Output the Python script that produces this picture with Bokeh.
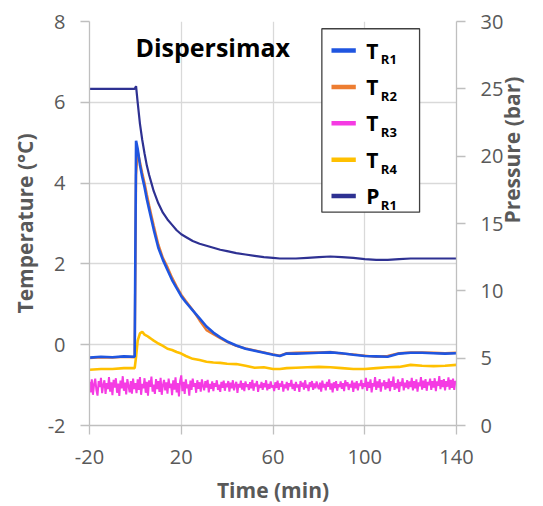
import math
from bokeh.plotting import figure
from bokeh.models import Range1d, LinearAxis, FixedTicker, Label
from bokeh.core.properties import value
from bokeh.embed import file_html
from bokeh.resources import INLINE

# ---------------- data ----------------
time_main = [-20, -15, -10, -5, -0.3, 0.3, 1, 2, 3, 4, 5, 6, 7, 8, 10, 12, 14, 16, 18, 20,
             22, 25, 28, 31, 34, 37, 40, 44, 48, 52, 56, 60, 63, 66, 70, 75, 80, 85, 90,
             95, 100, 105, 110, 115, 120, 125, 130, 135, 140]

t_r1 = [-0.32, -0.30, -0.31, -0.29, -0.30, 5.05, 4.85, 4.45, 4.15, 3.90, 3.60, 3.35, 3.10, 2.85,
        2.40, 2.10, 1.85, 1.60, 1.40, 1.20, 1.05, 0.85, 0.65, 0.45, 0.30, 0.18, 0.08, -0.02,
        -0.10, -0.15, -0.20, -0.25, -0.28, -0.22, -0.22, -0.21, -0.20, -0.19, -0.21, -0.25,
        -0.28, -0.29, -0.30, -0.22, -0.20, -0.20, -0.21, -0.22, -0.21]

t_r2 = [-0.33, -0.31, -0.32, -0.30, -0.31, 4.20, 4.78, 4.52, 4.25, 4.00, 3.72, 3.45, 3.20, 2.95,
        2.48, 2.15, 1.92, 1.66, 1.44, 1.24, 1.08, 0.86, 0.60, 0.36, 0.26, 0.16, 0.07, -0.03,
        -0.09, -0.14, -0.19, -0.24, -0.27, -0.21, -0.20, -0.19, -0.19, -0.18, -0.22, -0.24,
        -0.27, -0.30, -0.28, -0.21, -0.19, -0.19, -0.20, -0.21, -0.20]

t_r4 = [-0.62, -0.60, -0.60, -0.58, -0.58, -0.30, 0.10, 0.28, 0.32, 0.25, 0.22, 0.18, 0.14, 0.10,
        0.03, -0.03, -0.10, -0.13, -0.18, -0.22, -0.28, -0.35, -0.38, -0.42, -0.44, -0.45,
        -0.47, -0.48, -0.52, -0.57, -0.56, -0.60, -0.60, -0.58, -0.57, -0.56, -0.55, -0.56,
        -0.58, -0.60, -0.60, -0.58, -0.56, -0.55, -0.50, -0.52, -0.53, -0.52, -0.50]

p_r1 = [25.0, 25.0, 25.0, 25.0, 25.0, 25.2, 24.0, 22.4, 21.2, 20.2, 19.3, 18.6, 18.0, 17.4,
        16.5, 15.8, 15.3, 14.9, 14.5, 14.2, 14.0, 13.7, 13.5, 13.35, 13.2, 13.05, 12.95, 12.8,
        12.7, 12.6, 12.5, 12.45, 12.4, 12.4, 12.4, 12.45, 12.5, 12.55, 12.5, 12.45, 12.35,
        12.3, 12.3, 12.35, 12.4, 12.4, 12.4, 12.4, 12.4]

# T_R3 sampled every half minute from -20 to 140 min
time_r3 = [i / 2 for i in range(-40, 281)]
t_r3 = [
    -0.92, -1.18, -0.86, -1.24, -0.98, -0.84, -1.12, -1.26, -0.90, -1.05, -0.82, -1.20, -1.00, -0.88, -1.22, -0.95, -1.10, -0.80, -1.16, -0.93,
    -1.25, -0.87, -1.06, -0.83, -1.19, -0.96, -1.27, -0.89, -1.08, -0.78, -1.14, -0.94, -1.23, -0.85, -1.02, -1.18, -0.90, -1.21, -0.84, -1.10,
    -0.95, -1.20, -0.86, -1.12, -0.80, -1.24, -0.97, -1.08, -0.83, -1.19, -0.92, -1.26, -0.88, -1.04, -0.79, -1.16, -0.99, -1.22, -0.85, -1.10,
    -0.90, -1.17, -0.82, -1.24, -1.00, -0.87, -1.13, -0.93, -1.21, -0.84, -1.07, -0.96, -1.25, -0.88, -1.11, -0.81, -1.18, -0.95, -1.28, -0.90,
    -0.76, -1.15, -0.92, -1.22, -0.86, -1.08, -0.98, -1.26, -0.89, -1.12, -0.84, -1.04, -0.95, -1.19, -0.88, -1.09, -0.93, -1.16, -0.86, -1.02,
    -1.13, -0.90, -1.06, -0.87, -1.18, -0.97, -1.09, -0.91, -1.15, -0.95, -1.04, -0.88, -1.12, -0.99, -1.17, -0.92, -1.07, -0.89, -1.14, -0.96,
    -1.05, -0.90, -1.16, -0.94, -1.08, -0.88, -1.13, -1.00, -0.92, -1.19, -0.97, -1.06, -0.89, -1.11, -0.95, -1.15, -0.91, -1.04, -0.98, -1.12,
    -0.93, -1.08, -0.87, -1.14, -0.96, -1.03, -0.90, -1.17, -0.99, -1.07, -0.92, -1.12, -0.95, -1.05, -0.88, -1.13, -0.97, -1.09, -0.91, -1.06,
    -1.00, -1.15, -0.93, -1.07, -0.89, -1.12, -0.96, -1.04, -0.90, -1.16, -0.98, -1.08, -0.92, -1.13, -0.95, -1.03, -0.87, -1.10, -0.97, -1.14,
    -0.92, -1.06, -0.98, -1.17, -0.90, -1.04, -0.94, -1.11, -0.88, -1.07, -0.99, -1.15, -0.93, -1.05, -0.90, -1.12, -0.96, -1.08, -0.91, -1.03,
    -1.10, -0.94, -1.16, -0.89, -1.06, -0.97, -1.13, -0.92, -1.04, -0.86, -1.11, -0.96, -1.18, -0.93, -1.07, -0.90, -1.14, -0.98, -1.05, -0.91,
    -1.09, -0.95, -1.15, -0.88, -1.03, -0.93, -1.12, -0.97, -1.06, -0.89, -1.17, -0.94, -1.08, -0.90, -1.13, -0.96, -1.02, -0.87, -1.10, -0.95,
    -1.04, -0.82, -1.14, -0.92, -1.07, -0.86, -1.18, -0.95, -1.03, -0.80, -1.12, -0.91, -1.06, -0.85, -1.16, -0.94, -1.02, -0.88, -1.11, -0.93,
    -1.07, -0.84, -1.15, -0.90, -1.04, -0.79, -1.12, -0.95, -1.08, -0.86, -1.17, -0.92, -1.02, -0.83, -1.13, -0.94, -1.06, -0.88, -1.10, -0.91,
    -1.05, -0.82, -1.13, -0.90, -1.08, -0.86, -1.16, -0.93, -1.03, -0.80, -1.11, -0.89, -1.07, -0.85, -1.14, -0.92, -1.00, -0.84, -1.12, -0.90,
    -1.06, -0.83, -1.15, -0.91, -1.02, -0.78, -1.10, -0.88, -1.05, -0.85, -1.13, -0.90, -1.04, -0.81, -1.11, -0.87, -1.07, -0.84, -1.12, -0.90,
    -0.95]

x_ticks = [-20, 20, 60, 100, 140]
y_ticks = [-2, 0, 2, 4, 6, 8]
p_ticks = [0, 5, 10, 15, 20, 25, 30]

legend_main = ["T", "T", "T", "T", "P"]
legend_sub = ["R1", "R2", "R3", "R4", "R1"]
colors = ["#1F55E0", "#ED7D31", "#F53BE3", "#FFC000", "#2E3192"]

# ---------------- figure ----------------
FONT = "Open Sans"
GREY = "#595959"

p = figure(width=543, height=506, x_range=Range1d(-20, 140), y_range=Range1d(-2, 8),
           output_backend="svg", toolbar_location=None,
           min_border_left=89, min_border_right=86, min_border_top=21, min_border_bottom=80)
p.outline_line_color = None
p.background_fill_color = "white"
p.extra_y_ranges = {"pres": Range1d(0, 30)}

left_axis = p.yaxis[0]
bottom_axis = p.xaxis[0]

bottom_axis.ticker = FixedTicker(ticks=x_ticks, minor_ticks=[])
left_axis.ticker = FixedTicker(ticks=y_ticks, minor_ticks=[])
p.xgrid.ticker = FixedTicker(ticks=x_ticks)
p.ygrid.ticker = FixedTicker(ticks=y_ticks)
p.xgrid.grid_line_color = "#D9D9D9"
p.ygrid.grid_line_color = "#D9D9D9"
p.xgrid.grid_line_width = 1.3
p.ygrid.grid_line_width = 1.3

raxis = LinearAxis(y_range_name="pres", ticker=FixedTicker(ticks=p_ticks, minor_ticks=[]),
                   axis_label="Pressure (bar)")
p.add_layout(raxis, "right")
try:
    raxis.axis_label_orientation = math.pi / 2
except Exception:
    pass

bottom_axis.axis_label = "Time (min)"
left_axis.axis_label = "Temperature (°C)"
bottom_axis.major_label_overrides = {t: str(t) for t in x_ticks}
left_axis.major_label_overrides = {t: str(t) for t in y_ticks}

for ax in [bottom_axis, left_axis, raxis]:
    ax.axis_line_color = "#BFBFBF"
    ax.axis_line_width = 1.3
    ax.major_tick_line_color = "#BFBFBF"
    ax.major_tick_line_width = 1.3
    ax.major_tick_out = 9
    ax.major_tick_in = 0
    ax.minor_tick_line_color = None
    ax.major_label_text_font = FONT
    ax.major_label_text_font_size = "20px"
    ax.major_label_text_color = GREY
    ax.major_label_standoff = 15
    ax.axis_label_text_font = FONT
    ax.axis_label_text_font_size = "21px"
    ax.axis_label_text_font_style = "bold"
    ax.axis_label_text_color = GREY
    ax.axis_label_standoff = 6
bottom_axis.axis_label_standoff = 9
raxis.axis_label_standoff = 6

# ---------------- series ----------------
p.line(time_main, t_r2, line_color=colors[1], line_width=2.4)
p.line(time_r3, t_r3, line_color=colors[2], line_width=2.0)
p.line(time_main, t_r4, line_color=colors[3], line_width=2.6)
p.line(time_main, t_r1, line_color=colors[0], line_width=2.6)
p.line(time_main, p_r1, line_color=colors[4], line_width=2.2, y_range_name="pres")

# ---------------- title ----------------
p.add_layout(Label(x=0, y=7.37, text="Dispersimax", text_font=FONT, text_font_size="25px",
                   text_font_style="bold", text_color="black", text_baseline="alphabetic"))

# ---------------- legend (manual, for subscripts) ----------------
leg_left, leg_right, leg_top, leg_bottom = 81.3, 123.9, 7.82, 3.28
row0, row_step = 7.28, 0.9
rows = [row0 - i * row_step for i in range(len(legend_main))]
p.quad(left=leg_left, right=leg_right, top=leg_top, bottom=leg_bottom,
       fill_color="white", line_color="#404040", line_width=1.3)
p.segment(x0=[85.5] * 5, x1=[96.1] * 5, y0=rows, y1=rows, line_color=colors, line_width=4.5)
p.text(x=[100.6] * 5, y=rows, text=legend_main, text_font=value(FONT), text_font_size="21px",
       text_font_style="bold", text_color="black", text_baseline="middle")
p.text(x=[107.0] * 5, y=[r - 0.22 for r in rows], text=legend_sub, text_font=value(FONT),
       text_font_size="13px", text_font_style="bold", text_color="black", text_baseline="middle")

open("out.html", "w").write(file_html(p, INLINE))
